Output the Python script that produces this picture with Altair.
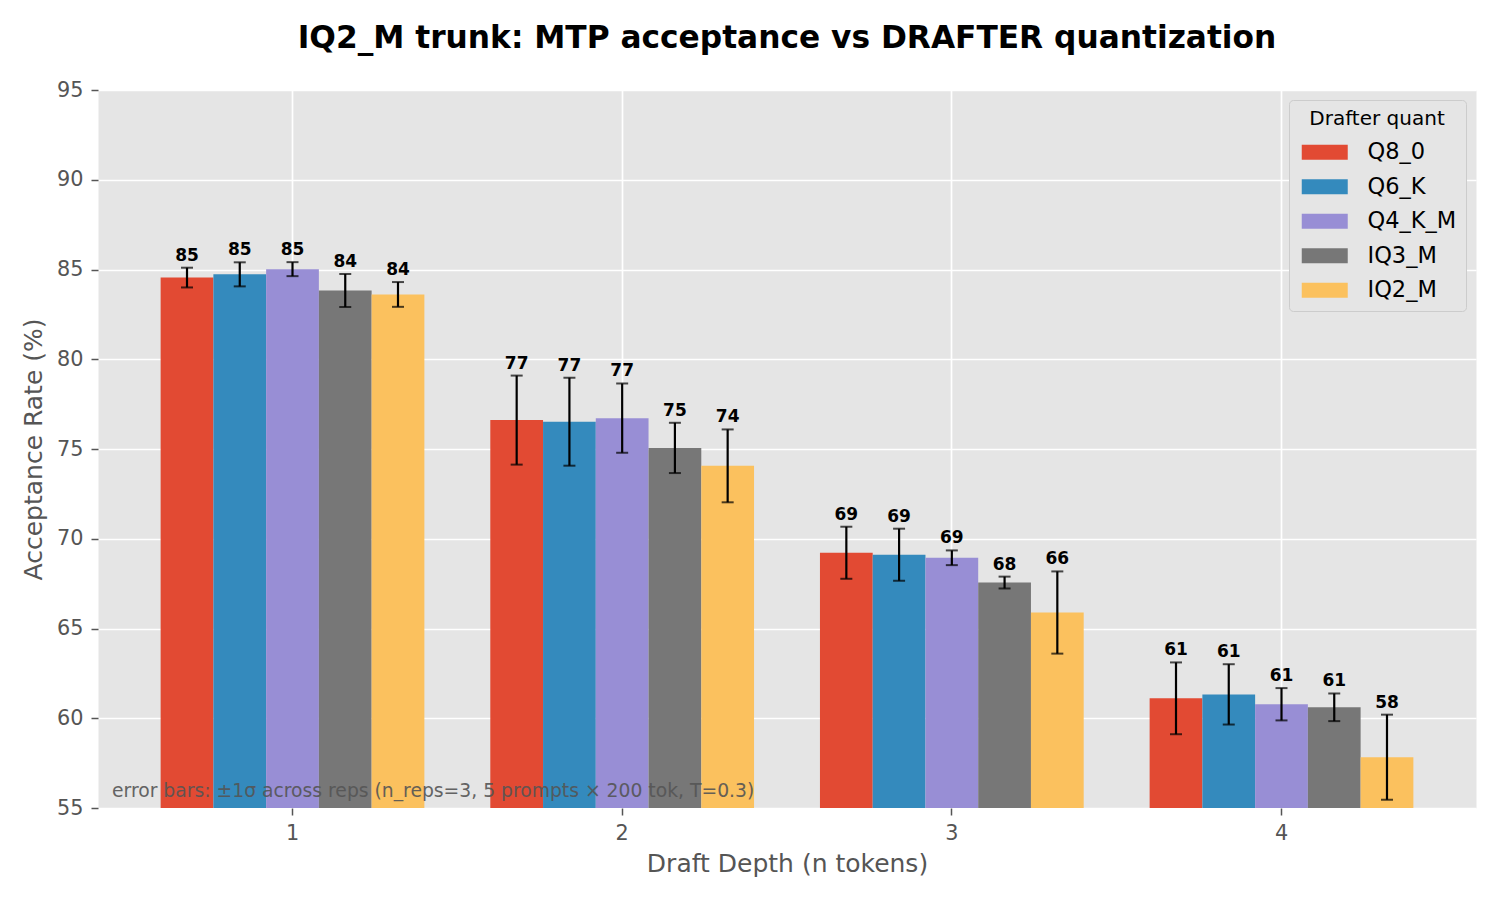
import altair as alt
import pandas as pd

depths = ["1", "2", "3", "4"]
quants = ["Q8_0", "Q6_K", "Q4_K_M", "IQ3_M", "IQ2_M"]

q8_0 = [84.55, 76.61, 69.22, 61.11]
q6_k = [84.73, 76.52, 69.11, 61.33]
q4_k_m = [85.02, 76.72, 68.94, 60.78]
iq3_m = [83.83, 75.06, 67.56, 60.61]
iq2_m = [83.61, 74.06, 65.89, 57.83]

q8_0_err = [0.55, 2.48, 1.45, 2.00]
q6_k_err = [0.67, 2.45, 1.45, 1.68]
q4_k_m_err = [0.39, 1.93, 0.41, 0.90]
iq3_m_err = [0.92, 1.40, 0.33, 0.77]
iq2_m_err = [0.69, 2.03, 2.29, 2.37]

colors = ["#E24A33", "#348ABD", "#988ED5", "#777777", "#FBC15E"]
y_ticks = [55, 60, 65, 70, 75, 80, 85, 90, 95]
note = "error bars: \u00b11\u03c3 across reps (n_reps=3, 5 prompts \u00d7 200 tok, T=0.3)"
title = "IQ2_M trunk: MTP acceptance vs DRAFTER quantization"

series_vals = [q8_0, q6_k, q4_k_m, iq3_m, iq2_m]
series_errs = [q8_0_err, q6_k_err, q4_k_m_err, iq3_m_err, iq2_m_err]

rows = []
for q, vs, es in zip(quants, series_vals, series_errs):
    for d, v, e in zip(depths, vs, es):
        rows.append({"depth": d, "quant": q, "value": v, "err": e})
df = pd.DataFrame(rows)

FONT = "DejaVu Sans"
ytitle = "Acceptance Rate (%)"
yscale = alt.Scale(domain=[55, 95], zero=False, nice=False)

base = alt.Chart(df).transform_calculate(
    lo="datum.value - datum.err", hi="datum.value + datum.err"
).encode(
    x=alt.X(
        "depth:N",
        sort=depths,
        title="Draft Depth (n tokens)",
        scale=alt.Scale(paddingInner=0.2, paddingOuter=0.19),
        axis=alt.Axis(labelAngle=0, grid=True, bandPosition=0.5, titlePadding=9, labelPadding=8),
    ),
    xOffset=alt.XOffset("quant:N", sort=quants, scale=alt.Scale(paddingInner=0, paddingOuter=0)),
)

yaxis = alt.Axis(values=y_ticks, titlePadding=10, labelPadding=8)

bars = base.mark_bar(clip=True).encode(
    y=alt.Y("value:Q", scale=yscale, title=ytitle, axis=yaxis),
    color=alt.Color(
        "quant:N",
        sort=quants,
        scale=alt.Scale(domain=quants, range=colors),
        legend=alt.Legend(
            title="Drafter quant",
            orient="top-right",
            offset=10,
            fillColor="#E5E5E5",
            strokeColor="#CCCCCC",
            cornerRadius=4,
            padding=9,
            symbolType="M-1,-1L5.133,-1L5.133,1L-1,1Z",
            symbolSize=225,
            symbolStrokeWidth=0,
            symbolOpacity=1,
            labelOffset=47,
            labelFont=FONT,
            labelFontSize=22.5,
            labelColor="#000000",
            titleFont=FONT,
            titleFontSize=20,
            titleFontWeight="normal",
            titleColor="#000000",
            titleAnchor="middle",
            titleAlign="center",
            titlePadding=12,
            rowPadding=11.5,
        ),
    ),
)

note_layer = alt.Chart(pd.DataFrame({"note": [note]})).mark_text(
    align="left", baseline="alphabetic", font=FONT, fontSize=18.75, color="#555555", opacity=0.9
).encode(x=alt.value(14), y=alt.value(707), text="note:N")

rules = base.mark_rule(color="black", strokeWidth=2.2).encode(
    y=alt.Y("lo:Q", scale=yscale, title=ytitle, axis=yaxis), y2="hi:Q"
)
caps_lo = base.mark_tick(color="black", thickness=2, size=12).encode(
    y=alt.Y("lo:Q", scale=yscale, title=ytitle, axis=yaxis)
)
caps_hi = base.mark_tick(color="black", thickness=2, size=12).encode(
    y=alt.Y("hi:Q", scale=yscale, title=ytitle, axis=yaxis)
)
labels = base.mark_text(
    font=FONT, fontWeight="bold", fontSize=17, dy=-7, baseline="alphabetic", color="#000000"
).encode(
    y=alt.Y("hi:Q", scale=yscale, title=ytitle, axis=yaxis),
    text=alt.Text("value:Q", format=".0f"),
)

chart = alt.layer(bars, note_layer, rules, caps_lo, caps_hi, labels).properties(
    width=1378,
    height=718,
    padding={"left": 90, "top": 82, "right": 16, "bottom": 84},
    autosize="none",
    background="#FFFFFF",
    title=alt.TitleParams(
        text=title, font=FONT, fontSize=31.25, fontWeight="bold", color="#000000",
        anchor="middle", baseline="alphabetic", offset=0,
    ),
).configure_view(
    fill="#E5E5E5", stroke="transparent"
).configure_axis(
    domain=False,
    gridColor="#FFFFFF",
    gridWidth=1.7,
    tickColor="#555555",
    tickSize=7,
    tickWidth=1.5,
    labelColor="#555555",
    labelFont=FONT,
    labelFontSize=20.8,
    titleColor="#555555",
    titleFont=FONT,
    titleFontSize=25,
    titleFontWeight="normal",
)

chart.save("out.html", embed_options={"renderer": "svg", "actions": False})
